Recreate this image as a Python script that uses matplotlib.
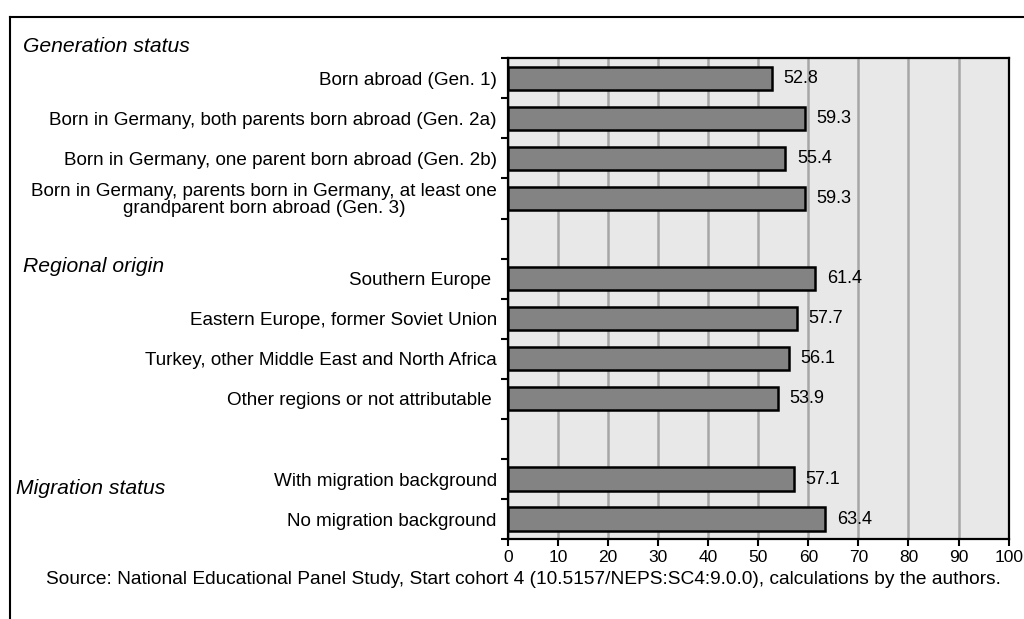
import matplotlib.pyplot as plt
from matplotlib.lines import Line2D
import numpy as np

plt.rcParams['font.family'] = ['Liberation Sans', 'DejaVu Sans']

# categories top to bottom, empty strings are spacer rows
labels = ["Born abroad (Gen. 1)",
          "Born in Germany, both parents born abroad (Gen. 2a)",
          "Born in Germany, one parent born abroad (Gen. 2b)",
          "Born in Germany, parents born in Germany, at least one\ngrandparent born abroad (Gen. 3)",
          "",
          "Southern Europe ",
          "Eastern Europe, former Soviet Union",
          "Turkey, other Middle East and North Africa",
          "Other regions or not attributable ",
          "",
          "With migration background",
          "No migration background"]
values = [52.8, 59.3, 55.4, 59.3, None, 61.4, 57.7, 56.1, 53.9, None, 57.1, 63.4]
groups = ["Generation status", "Regional origin", "Migration status"]
xticks = [0, 10, 20, 30, 40, 50, 60, 70, 80, 90, 100]
source = "Source: National Educational Panel Study, Start cohort 4 (10.5157/NEPS:SC4:9.0.0), calculations by the authors."

fig = plt.figure(figsize=(10.24, 6.19), dpi=100)
ax = fig.add_axes([0.496, 0.129, 0.489, 0.777])
ax.set_facecolor('#e8e8e8')

n = len(labels)
ypos = np.arange(n)
for y, v in zip(ypos, values):
    if v is None:
        continue
    ax.barh(y, v, height=0.58, color='#838383', edgecolor='black', linewidth=1.8, zorder=3)
    ax.text(v + 2.3, y, "%.1f" % v, va='center', ha='left', fontsize=13, zorder=4)

ax.set_ylim(n - 0.5, -0.5)
ax.set_xlim(0, 100)
ax.set_xticks(xticks)
ax.set_xticklabels([str(t) for t in xticks], fontsize=12.5)
ax.xaxis.grid(True, color='#a6a6a6', linewidth=1.8, zorder=0)
ax.set_axisbelow(True)

# category labels
ax.set_yticks(ypos)
ax.set_yticklabels(labels, fontsize=13.6, multialignment='center', linespacing=0.95)
ax.tick_params(axis='y', length=0, pad=8)
# boundary ticks on left spine
ax.set_yticks(np.arange(-0.5, n, 1), minor=True)
ax.tick_params(axis='y', which='minor', length=5, width=1.5, direction='out')
ax.tick_params(axis='x', length=5, width=1.5, direction='out', pad=3)

for s in ax.spines.values():
    s.set_linewidth(1.6)
    s.set_color('black')

# group headers
fig.text(0.022, 1 - 47 / 619, groups[0], fontsize=15.2, style='italic', va='center', ha='left')
fig.text(0.022, 1 - 267 / 619, groups[1], fontsize=15.2, style='italic', va='center', ha='left')
fig.text(0.016, 1 - 489 / 619, groups[2], fontsize=15.2, style='italic', va='center', ha='left')

fig.text(0.511, 1 - 580 / 619, source, fontsize=13.8, ha='center', va='center')

# outer frame
fig.add_artist(Line2D([10 / 1024, 1.0], [1 - 17 / 619, 1 - 17 / 619], color='black', linewidth=1.5))
fig.add_artist(Line2D([10 / 1024, 10 / 1024], [0, 1 - 17 / 619], color='black', linewidth=1.5))

fig.savefig('out.png', dpi=100)
